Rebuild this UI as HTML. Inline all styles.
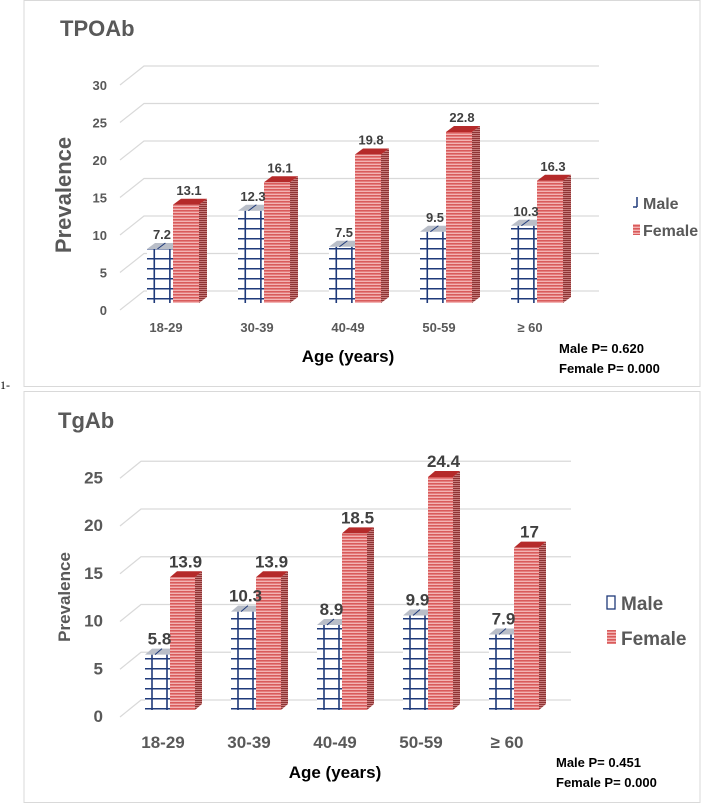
<!DOCTYPE html>
<html><head><meta charset="utf-8">
<style>
html,body{margin:0;padding:0;background:#fff;}
body{width:709px;height:805px;overflow:hidden;font-family:"Liberation Sans",sans-serif;}
svg text{font-family:"Liberation Sans",sans-serif;font-weight:bold;}
</style></head>
<body>
<svg id="root" width="709" height="805" viewBox="0 0 709 805">
<defs>
<pattern id="femStripe" patternUnits="userSpaceOnUse" width="4" height="3">
<rect width="4" height="3" fill="#f3b3b3"/><rect width="4" height="1.6" fill="#d95b5b"/>
</pattern>
<pattern id="femSide" patternUnits="userSpaceOnUse" width="4" height="2">
<rect width="4" height="2" fill="#c77b7b"/><rect width="4" height="1" fill="#8e3434"/>
</pattern>
<pattern id="maleH" patternUnits="userSpaceOnUse" width="4" height="10">
<rect width="4" height="10" fill="#ffffff"/><rect y="8" width="4" height="1.5" fill="#1f3a7a"/>
</pattern>
</defs>
<rect x="24" y="0.5" width="676" height="386" fill="#fff" stroke="#d9d9d9"/>
<rect x="24" y="391.5" width="676" height="411" fill="#fff" stroke="#d9d9d9"/>
<text x="0" y="389" font-size="12" fill="#000" style="font-weight:normal;font-family:'Liberation Serif',serif">1-</text>
<g id="c1"></g>
<g id="c2"></g>
</svg>
<script>
const categories = ["18-29","30-39","40-49","50-59","\u2265 60"];
const tpoMale = [7.2,12.3,7.5,9.5,10.3];
const tpoFemale = [13.1,16.1,19.8,22.8,16.3];
const tpoTicks = [0,5,10,15,20,25,30];
const tgMale = [5.8,10.3,8.9,9.9,7.9];
const tgFemale = [13.9,13.9,18.5,24.4,17];
const tgTicks = [0,5,10,15,20,25];

const NS = "http://www.w3.org/2000/svg";
function mk(tag, attrs, parent, txt){
  const e = document.createElementNS(NS, tag);
  for (const k in attrs) e.setAttribute(k, attrs[k]);
  if (txt !== undefined) e.textContent = txt;
  parent.appendChild(e);
  return e;
}
function drawChart(g, L, male, female, ticks){
  const y = v => L.y0 - v*L.scale;
  const dx = L.dx, dy = L.dy;
  ticks.forEach(t=>{
    const yf = L.fy0 - t*L.scale;
    const yb = yf - L.gdy;
    const p = mk("polyline",{points:`${L.gx0},${yf} ${L.gx0+L.gdx},${yb} ${L.gx1},${yb}`,fill:"none",stroke:"#d9d9d9","stroke-width":1.2},g);
    
    
    const tx = mk("text",{x:L.tickX,y:yf+5,"text-anchor":"end","font-size":L.tickFs,fill:"#595959"},g,String(t));
    
    
  });
  categories.forEach((c,i)=>{
    const cx = L.c0 + i*L.step;
    const mx = cx - L.bw, fx = cx;
    const mv = male[i], yt = y(mv), h = L.y0 - yt;
    const mg = mk("g",{},g);
    
    
    mk("rect",{x:mx,y:yt,width:L.bw,height:h,fill:"url(#maleH)"},mg);
    mk("line",{x1:mx+L.bw*0.28,y1:yt,x2:mx+L.bw*0.28,y2:L.y0,stroke:"#1f3a7a","stroke-width":1.6},mg);
    mk("line",{x1:mx+L.bw*0.88,y1:yt,x2:mx+L.bw*0.88,y2:L.y0,stroke:"#1f3a7a","stroke-width":1.6},mg);
    mk("polygon",{points:`${mx},${yt} ${mx+dx},${yt-dy} ${mx+L.bw+dx},${yt-dy} ${mx+L.bw},${yt}`,fill:"#b9bec8"},mg);
    mk("line",{x1:mx+L.bw*0.4,y1:yt,x2:mx+L.bw*0.4+dx,y2:yt-dy,stroke:"#1f3a7a","stroke-width":1},mg);
    const fv = female[i], ft = y(fv), fh = L.y0 - ft;
    const fg = mk("g",{},g);
    
    
    mk("rect",{x:fx,y:ft,width:L.bw,height:fh,fill:"url(#femStripe)"},fg);
    mk("polygon",{points:`${fx+L.bw},${ft} ${fx+L.bw+dx},${ft-dy} ${fx+L.bw+dx},${L.y0-dy} ${fx+L.bw},${L.y0}`,fill:"url(#femSide)"},fg);
    mk("polygon",{points:`${fx},${ft} ${fx+dx},${ft-dy} ${fx+L.bw+dx},${ft-dy} ${fx+L.bw},${ft}`,fill:"#b52a2a"},fg);
    const ml = mk("text",{x:mx+L.bw/2+2,y:yt-dy-4,"text-anchor":"middle","font-size":L.valFs,fill:"#404040"},g,String(mv));
    
    
    const fl = mk("text",{x:fx+L.bw/2+3,y:ft-dy-4,"text-anchor":"middle","font-size":L.valFs,fill:"#404040"},g,String(fv));
    
    
    const xl = mk("text",{x:L.lab0+i*L.step,y:L.xLabY,"text-anchor":"middle","font-size":L.xFs,fill:"#595959"},g,c);
    
    
  });
}
const L1 = {y0:303, scale:7.5, fy0:310, gdx:24, gdy:19, gx0:120, gx1:599, tickX:107, tickFs:13,
  c0:173, step:91, bw:26, dx:8, dy:6, valFs:13, lab0:166, xLabY:332, xFs:13};
const L2 = {y0:710, scale:9.55, fy0:717, gdx:21, gdy:17, gx0:120, gx1:571, tickX:103, tickFs:17,
  c0:170, step:86, bw:25, dx:7, dy:6, valFs:17, lab0:163, xLabY:748, xFs:17};
drawChart(document.getElementById('c1'), L1, tpoMale, tpoFemale, tpoTicks);
drawChart(document.getElementById('c2'), L2, tgMale, tgFemale, tgTicks);
</script>
<svg width="709" height="805" viewBox="0 0 709 805" style="position:absolute;left:0;top:0">
<text x="60" y="36" font-size="22" fill="#595959">TPOAb</text>
<text transform="translate(71,195) rotate(-90)" text-anchor="middle" font-size="22" fill="#595959">Prevalence</text>
<text x="348" y="362" text-anchor="middle" font-size="17" fill="#000">Age (years)</text>
<g>
<line x1="637" y1="197" x2="637" y2="207" stroke="#1f3a7a" stroke-width="1.5"/><line x1="633" y1="207" x2="637" y2="207" stroke="#1f3a7a" stroke-width="1.5"/>
<text x="643" y="209" font-size="16" fill="#595959">Male</text></g>
<g>
<rect x="633" y="224" width="7" height="11" fill="url(#femStripe)"/>
<text x="643" y="236" font-size="16" fill="#595959">Female</text></g>
<text x="559" y="353" font-size="13" fill="#000">Male P= 0.620</text>
<text x="559" y="373" font-size="13" fill="#000">Female P= 0.000</text>

<text x="58" y="428" font-size="22" fill="#595959">TgAb</text>
<text transform="translate(70,597) rotate(-90)" text-anchor="middle" font-size="17" fill="#595959">Prevalence</text>
<text x="335" y="778" text-anchor="middle" font-size="17" fill="#000">Age (years)</text>
<g>
<rect x="607" y="596" width="8" height="13" fill="#fff" stroke="#1f3a7a" stroke-width="1.3"/>
<text x="621" y="610" font-size="19" fill="#595959">Male</text></g>
<g>
<rect x="607" y="630" width="9" height="14" fill="url(#femStripe)"/>
<text x="621" y="645" font-size="19" fill="#595959">Female</text></g>
<text x="556" y="767" font-size="13" fill="#000">Male P= 0.451</text>
<text x="556" y="787" font-size="13" fill="#000">Female P= 0.000</text>
</svg>
</body></html>
